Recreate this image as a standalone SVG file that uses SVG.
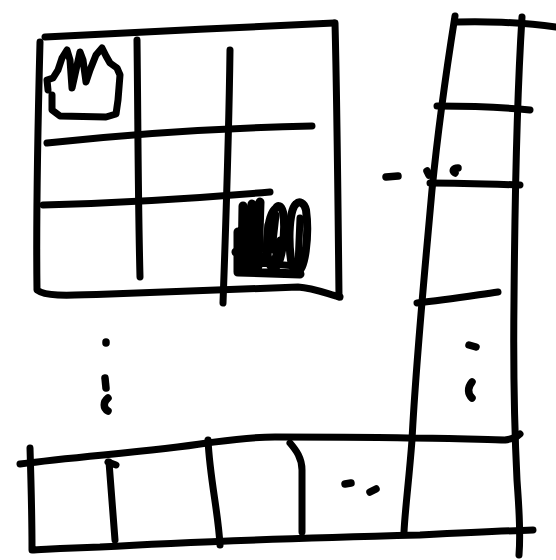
<svg xmlns="http://www.w3.org/2000/svg" width="556" height="560" viewBox="0 0 556 560">
<style>
.s{fill:none;stroke:#000;stroke-width:7;stroke-linecap:round;stroke-linejoin:round}
.d{fill:none;stroke:#000;stroke-width:7.5;stroke-linecap:round}
</style>
<rect width="556" height="560" fill="#fff"/>
<g id="grid">
<path class="s" d="M45,37 C120,33 250,27 334,23"/>
<path class="s" d="M40,42 C38,120 36,220 37,290 C45,296 60,296 110,294 C200,291 260,288 298,287 C315,288 330,295 340,297"/>
<path class="s" d="M335,23 C337,100 338,200 339,297"/>
<path class="s" d="M137,40 C138,120 138,200 140,277"/>
<path class="s" d="M230,50 C229,130 226,220 223,303"/>
<path class="s" d="M47,143 C120,135 220,128 312,126"/>
<path class="s" d="M43,205 C120,203 200,198 270,192"/>
<path class="s" d="M48,90 L47,80 L53,78 L58,70 L62,58 L67,50 L70,60 L72,88 L76,70 L80,52 L83,60 L86,82 L90,70 L96,55 L102,48 L106,56 L110,63 L117,68 L120,75 L118,100 L116,114 L106,117 L60,116 L52,110 L52,95"/>
<g>
<path class="s" style="stroke-width:9" d="M243,206 L242,272 M252,204 L250,270 M260,202 L258,266 M238,232 L238,272 L300,274 M236,252 L262,248"/>
<path class="s" style="stroke-width:8" d="M276,208 C266,215 264,260 272,268 C282,272 286,230 283,212 C281,205 278,205 276,208 Z"/>
<path class="s" style="stroke-width:8" d="M296,204 C287,212 288,262 295,272 C306,276 309,232 306,210 C304,202 299,201 296,204 Z"/>
<path class="s" style="stroke-width:7" d="M268,225 L266,262 M300,218 L298,266 M246,258 L262,256 L258,268 M280,240 L274,262 M276,215 L272,250 M248,262 L296,266"/>
</g>
</g>
<g id="column">
<path class="s" d="M455,16 C448,60 440,110 432,190 C424,280 416,360 412,440 C409,480 405,510 404,532"/>
<path class="s" d="M522,17 C518,80 515,180 514,300 C513,380 515,440 517,480 C519,510 521,530 519,555"/>
<path class="s" d="M457,22 C480,21 520,22 556,27"/>
<path class="s" d="M437,106 C470,106 500,107 530,110"/>
<path class="s" d="M430,183 C460,183 490,184 520,185"/>
<path class="s" d="M417,303 C445,300 470,296 498,292"/>
</g>
<g id="row">
<path class="s" d="M20,464 C80,456 150,452 207,443 C230,440 250,437 275,437 C330,437 380,437 412,438 C450,438 490,440 505,440 C512,439 517,437 520,434"/>
<path class="s" d="M30,448 C31,480 32,520 32,550 C40,550 60,548 100,547 C200,541 300,538 420,535 C460,533 500,531 533,530"/>
<path class="s" d="M108,462 L116,465 M109,462 C111,490 113,515 115,540"/>
<path class="s" d="M208,440 C210,480 218,510 220,545"/>
<path class="s" d="M290,443 C296,450 302,458 302,470 L302,532"/>
</g>
<g id="dots">
<path class="d" d="M386,177 L398,176"/>
<path class="d" d="M427,171 L429,175"/>
<path class="d" d="M458,168 C453,168 452,171 455,173"/>
<path class="d" d="M469,345 L476,347"/>
<path class="d" d="M472,382 C467,388 468,394 472,398"/>
<path class="d" d="M345,484 L351,483"/>
<path class="d" d="M370,492 L376,489"/>
<path class="d" d="M106,342 L106,343"/>
<path class="d" d="M105,378 L106,388"/>
<path class="d" d="M108,398 C103,402 103,408 108,411"/>
</g>
</svg>
